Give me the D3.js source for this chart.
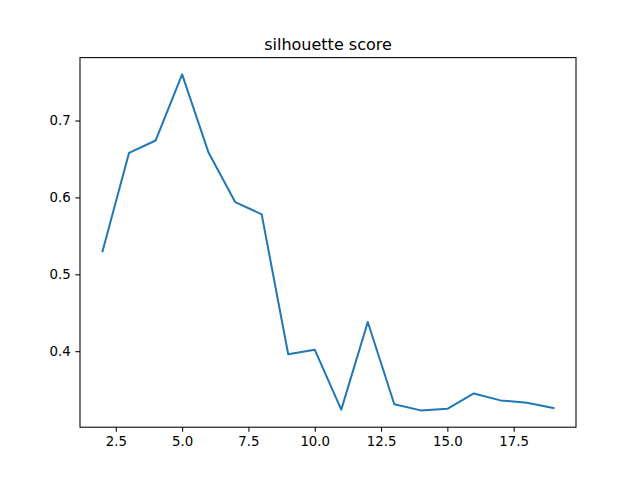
<!DOCTYPE html>
<html>
<head>
<meta charset="utf-8">
<script src="https://cdn.jsdelivr.net/npm/d3@7"></script>
<style>
  body { margin: 0; background: #fff; }
  svg text { font-family: "DejaVu Sans", sans-serif; fill: #000; }
</style>
</head>
<body>
<div id="chart"></div>
<script>
// cluster counts and their silhouette scores
const clusterCounts = [2, 3, 4, 5, 6, 7, 8, 9, 10, 11, 12, 13, 14, 15, 16, 17, 18, 19];
const scores = [0.530, 0.658, 0.674, 0.760, 0.658, 0.594, 0.578, 0.396, 0.402, 0.324,
                0.438, 0.331, 0.323, 0.325, 0.345, 0.336, 0.333, 0.326];
const xTicks = [2.5, 5.0, 7.5, 10.0, 12.5, 15.0, 17.5];
const yTicks = [0.4, 0.5, 0.6, 0.7];
const title = 'silhouette score';

const width = 640;
const height = 480;
const margin = { top: 57.6, right: 64, bottom: 52.8, left: 80 };

const svg = d3.select('#chart')
  .append('svg')
  .attr('width', width)
  .attr('height', height);

// matplotlib style 5% padding on both axes
const pad = ([lo, hi]) => [lo - (hi - lo) * 0.05, hi + (hi - lo) * 0.05];

const x = d3.scaleLinear()
  .domain(pad(d3.extent(clusterCounts)))
  .range([margin.left, width - margin.right]);

const y = d3.scaleLinear()
  .domain(pad(d3.extent(scores)))
  .range([height - margin.bottom, margin.top]);

const xAxis = svg.append('g')
  .attr('transform', `translate(0, ${height - margin.bottom})`)
  .call(d3.axisBottom(x).tickValues(xTicks).tickFormat(d3.format('.1f')).tickSizeOuter(0).tickSize(4.67).tickPadding(4.67));

const yAxis = svg.append('g')
  .attr('transform', `translate(${margin.left}, 0)`)
  .call(d3.axisLeft(y).tickValues(yTicks).tickFormat(d3.format('.1f')).tickSizeOuter(0).tickSize(4.67).tickPadding(4.67));

[xAxis, yAxis].forEach(g => {
  g.select('.domain').remove();
  g.selectAll('.tick line').attr('stroke', '#000').attr('stroke-width', 1.07);
  g.selectAll('.tick text')
    .style('font-family', '"DejaVu Sans", sans-serif')
    .style('font-size', '13.33px');
});

const line = d3.line()
  .x((d, i) => x(clusterCounts[i]))
  .y(d => y(d));

svg.append('path')
  .datum(scores)
  .attr('fill', 'none')
  .attr('stroke', '#1f77b4')
  .attr('stroke-width', 2)
  .attr('stroke-linejoin', 'round')
  .attr('stroke-linecap', 'square')
  .attr('d', line);

// axes frame
svg.append('rect')
  .attr('x', margin.left)
  .attr('y', margin.top)
  .attr('width', width - margin.left - margin.right)
  .attr('height', height - margin.top - margin.bottom)
  .attr('fill', 'none')
  .attr('stroke', '#000')
  .attr('stroke-width', 1.07);

svg.append('text')
  .attr('x', (margin.left + width - margin.right) / 2)
  .attr('y', margin.top - 8)
  .attr('text-anchor', 'middle')
  .style('font-size', '16px')
  .text(title);
</script>
</body>
</html>
